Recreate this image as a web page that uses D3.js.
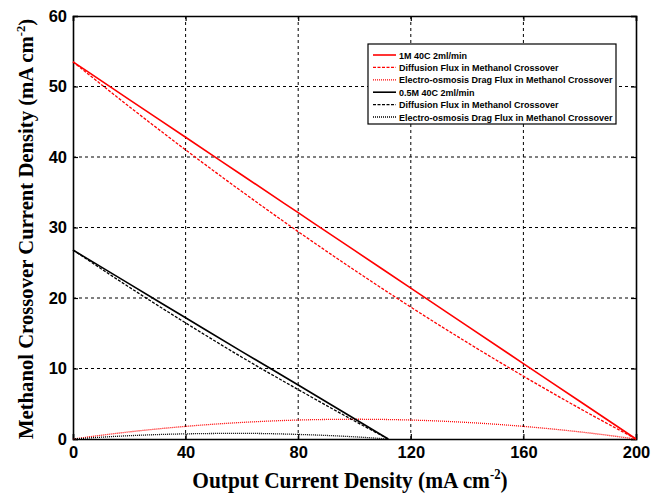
<!DOCTYPE html>
<html><head><meta charset="utf-8">
<script src="https://cdn.jsdelivr.net/npm/d3@7"></script>
<style>body{margin:0;background:#fff;}svg{display:block;}</style>
</head><body>
<svg id="c" width="651" height="493"></svg>
<script>
const xTicks = [0, 40, 80, 120, 160, 200];
const yTicks = [0, 10, 20, 30, 40, 50, 60];

const redX = [0, 20, 40, 60, 80, 100, 120, 140, 160, 180, 200];
const redTotal = [53.5, 48.15, 42.8, 37.45, 32.1, 26.75, 21.4, 16.05, 10.7, 5.35, 0];
const redDiff = [53.5, 47.14, 41.01, 35.1, 29.41, 23.95, 18.71, 13.7, 8.91, 4.34, 0];
const redEOD = [0, 1.01, 1.79, 2.35, 2.69, 2.8, 2.69, 2.35, 1.79, 1.01, 0];

const blackX = [0, 20, 40, 60, 80, 100, 112];
const blackTotal = [26.8, 22.0, 17.2, 12.4, 7.66, 2.87, 0];
const blackDiff = [26.8, 21.53, 16.47, 11.6, 7.01, 2.56, 0];
const blackEOD = [0, 0.47, 0.73, 0.8, 0.65, 0.31, 0];

const legendLabels = ["1M 40C 2ml/min", "Diffusion Flux in Methanol Crossover", "Electro-osmosis Drag Flux in Methanol Crossover",
  "0.5M 40C 2ml/min", "Diffusion Flux in Methanol Crossover", "Electro-osmosis Drag Flux in Methanol Crossover"];

const svg = d3.select("#c");
const L = 73, R = 636, T = 16, B = 439;
const x = d3.scaleLinear().domain([0, 200]).range([L, R]);
const y = d3.scaleLinear().domain([0, 60]).range([B, T]);

// grid
const g = svg.append("g");
g.selectAll(".gx").data(xTicks.slice(1, -1)).enter().append("line")
  .attr("x1", d => x(d)).attr("x2", d => x(d)).attr("y1", T).attr("y2", B)
  .attr("stroke", "#000").attr("stroke-width", 1).attr("stroke-dasharray", "3,3");
g.selectAll(".gy").data(yTicks.slice(1, -1)).enter().append("line")
  .attr("y1", d => y(d)).attr("y2", d => y(d)).attr("x1", L).attr("x2", R)
  .attr("stroke", "#000").attr("stroke-width", 1).attr("stroke-dasharray", "3,3");

// axes
const xa = svg.append("g").attr("transform", `translate(0,${B})`)
  .call(d3.axisBottom(x).tickValues(xTicks).tickSize(-5).tickPadding(7).tickFormat(d3.format("d")));
const xa2 = svg.append("g").attr("transform", `translate(0,${T})`)
  .call(d3.axisTop(x).tickValues(xTicks).tickSize(-5).tickFormat(""));
const ya = svg.append("g").attr("transform", `translate(${L},0)`)
  .call(d3.axisLeft(y).tickValues(yTicks).tickSize(-5).tickPadding(6).tickFormat(d3.format("d")));
const ya2 = svg.append("g").attr("transform", `translate(${R},0)`)
  .call(d3.axisRight(y).tickValues(yTicks).tickSize(-5).tickFormat(""));
[xa, xa2, ya, ya2].forEach(a => {
  a.selectAll("path").attr("stroke", "#000").attr("stroke-width", 1.6);
  a.selectAll("line").attr("stroke", "#000").attr("stroke-width", 1.2);
  a.selectAll("text").attr("font-family", "Liberation Sans, Arial, sans-serif")
    .attr("font-weight", "bold").attr("font-size", 16.5).attr("fill", "#000");
});

// series
const line = d3.line().x(d => x(d[0])).y(d => y(d[1])).curve(d3.curveMonotoneX);
const series = [
  {xs: redX, ys: redTotal, c: "#ff0000", dash: null, w: 1.6},
  {xs: redX, ys: redDiff, c: "#ff0000", dash: "3,1.5", w: 1.3},
  {xs: redX, ys: redEOD, c: "#ff0000", dash: "1,1", w: 1.3},
  {xs: blackX, ys: blackTotal, c: "#000", dash: null, w: 1.6},
  {xs: blackX, ys: blackDiff, c: "#000", dash: "3,1.5", w: 1.3},
  {xs: blackX, ys: blackEOD, c: "#000", dash: "1,1", w: 1.3}
];
series.forEach(s => {
  svg.append("path").datum(s.xs.map((v, i) => [v, s.ys[i]]))
    .attr("d", line).attr("fill", "none").attr("stroke", s.c)
    .attr("stroke-width", s.w).attr("stroke-dasharray", s.dash);
});

// legend
const lg = svg.append("g");
lg.append("rect").attr("x", 368).attr("y", 44).attr("width", 248).attr("height", 80)
  .attr("fill", "#fff").attr("stroke", "#000").attr("stroke-width", 1.2);
legendLabels.forEach((t, i) => {
  const yy = 55 + i * 12.4;
  const s = series[i];
  lg.append("line").attr("x1", 373).attr("x2", 396).attr("y1", yy).attr("y2", yy)
    .attr("stroke", s.c).attr("stroke-width", s.w).attr("stroke-dasharray", s.dash);
  lg.append("text").attr("x", 399).attr("y", yy + 3.5).text(t)
    .attr("font-family", "Liberation Sans, Arial, sans-serif").attr("font-weight", "bold")
    .attr("font-size", 9).attr("fill", "#000");
});

// titles
const xt = svg.append("text").attr("transform", "translate(350,488) scale(0.91,1)").attr("text-anchor", "middle")
  .attr("font-family", "Liberation Serif, Times New Roman, serif").attr("font-weight", "bold")
  .attr("font-size", 23.5).attr("fill", "#000");
xt.append("tspan").text("Output Current Density (mA cm");
xt.append("tspan").text("-2").attr("font-size", 14).attr("dy", -9);
xt.append("tspan").text(")").attr("dy", 9);

const yt = svg.append("text").attr("transform", "translate(33,229) rotate(-90)").attr("text-anchor", "middle")
  .attr("font-family", "Liberation Serif, Times New Roman, serif").attr("font-weight", "bold")
  .attr("font-size", 20.7).attr("fill", "#000");
yt.append("tspan").text("Methanol Crossover Current Density (mA cm");
yt.append("tspan").text("-2").attr("font-size", 12.5).attr("dy", -8);
yt.append("tspan").text(")").attr("dy", 8);
</script>
</body></html>
